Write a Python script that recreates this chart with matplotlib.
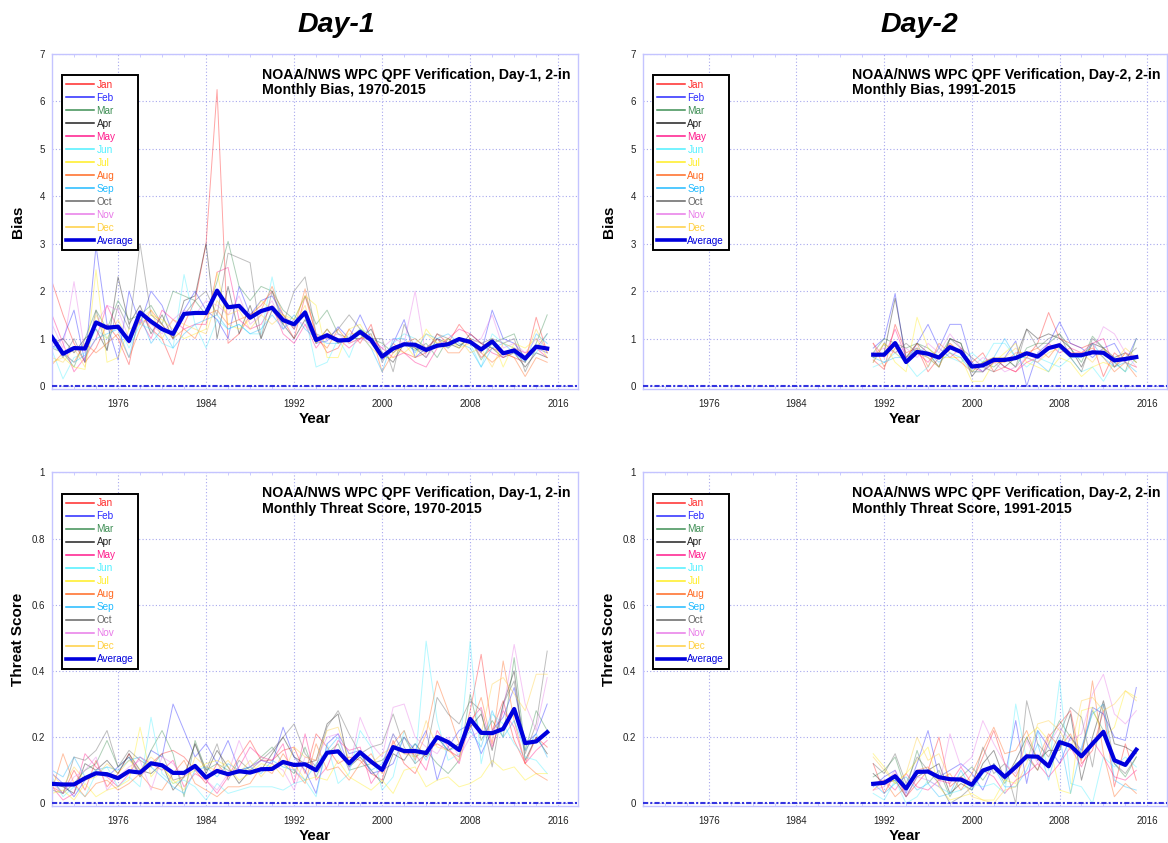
import matplotlib
matplotlib.use("Agg")
import matplotlib.pyplot as plt
from matplotlib.lines import Line2D
from matplotlib.ticker import MultipleLocator, FixedLocator

plt.rcParams['font.family'] = ['Liberation Sans', 'DejaVu Sans']

# ---------------------------------------------------------------- data
months = ['Jan', 'Feb', 'Mar', 'Apr', 'May', 'Jun',
          'Jul', 'Aug', 'Sep', 'Oct', 'Nov', 'Dec']
month_colors = ['#ff2a2a', '#2a2aff', '#3f8f55', '#222222', '#ff1a8c', '#4ef0ff',
                '#ffee22', '#ff6a22', '#22bbff', '#666666', '#e87ae8', '#ffd040']
avg_color = '#0000dd'

years_d1 = list(range(1970, 2016))
years_d2 = list(range(1991, 2016))

# Day-1 monthly bias, 1970-2015 (one row per month, Jan..Dec)
bias_d1 = [
    [2.2, 1.5, 0.9, 0.5, 0.8, 1.3, 1.0, 0.45, 1.6, 1.2, 1.0, 0.45, 1.3, 1.8, 3.0, 6.25, 0.9, 1.1, 1.5, 1.7,
     2.0, 1.4, 1.0, 1.9, 1.1, 0.7, 0.8, 1.2, 0.9, 1.3, 0.5, 0.9, 0.7, 0.6, 0.7, 1.1, 0.9, 1.3, 1.0, 0.6,
     0.8, 0.7, 0.6, 0.5, 1.45, 0.7],
    [0.8, 1.0, 1.6, 0.5, 2.95, 1.3, 0.55, 2.0, 1.3, 2.0, 1.7, 1.1, 1.6, 2.0, 1.6, 1.4, 1.0, 2.1, 1.5, 1.8,
     1.9, 1.5, 1.2, 1.6, 0.9, 0.95, 1.25, 1.0, 1.5, 1.0, 0.55, 0.9, 1.4, 0.6, 0.8, 1.0, 0.8, 1.0, 0.9, 0.7,
     1.6, 1.0, 0.9, 0.6, 0.8, 0.7],
    [0.8, 0.7, 0.4, 1.0, 1.6, 1.2, 1.8, 1.4, 1.5, 1.7, 1.3, 2.0, 1.9, 1.8, 1.5, 2.2, 3.05, 2.1, 1.8, 2.1,
     2.0, 1.6, 1.4, 1.9, 1.3, 1.6, 1.1, 1.0, 1.2, 1.0, 0.9, 0.7, 0.9, 0.75, 0.9, 0.6, 1.0, 0.85, 1.0, 0.55,
     0.9, 1.0, 1.1, 0.5, 0.9, 1.5],
    [0.9, 1.0, 0.7, 1.0, 1.2, 0.75, 2.3, 1.3, 1.7, 1.1, 1.5, 1.0, 1.8, 1.9, 3.0, 1.0, 2.1, 1.1, 1.7, 1.0,
     1.6, 1.3, 1.0, 1.4, 0.9, 1.2, 0.9, 1.0, 1.0, 1.2, 0.7, 0.5, 0.9, 0.8, 0.6, 1.0, 0.9, 0.8, 1.1, 0.9,
     0.8, 0.6, 0.7, 0.4, 0.7, 0.6],
    [1.5, 0.9, 0.3, 0.6, 1.0, 1.7, 1.2, 0.9, 1.4, 1.0, 1.6, 1.4, 1.2, 1.3, 1.3, 2.4, 2.5, 1.4, 1.2, 1.3,
     1.7, 1.1, 0.9, 1.3, 0.8, 1.1, 1.0, 0.8, 1.0, 1.0, 0.8, 0.6, 0.7, 0.5, 0.4, 0.8, 1.0, 1.2, 1.1, 0.9,
     0.7, 0.6, 0.8, 0.7, 0.8, 0.6],
    [0.75, 0.15, 0.6, 0.7, 1.2, 1.0, 1.3, 0.8, 1.3, 1.2, 0.9, 0.8, 2.35, 1.3, 0.8, 1.4, 1.2, 1.3, 1.1, 1.1,
     2.3, 1.2, 1.4, 1.5, 0.4, 0.5, 1.0, 0.6, 1.2, 1.1, 0.5, 0.9, 1.1, 1.0, 0.8, 0.9, 0.8, 1.0, 0.9, 0.4,
     1.1, 0.9, 0.8, 0.6, 0.7, 1.1],
    [0.5, 0.6, 0.4, 0.35, 2.45, 0.5, 0.6, 1.2, 1.3, 1.5, 1.4, 1.2, 1.0, 1.1, 1.2, 2.4, 1.3, 1.2, 1.4, 1.8,
     1.6, 1.5, 1.4, 1.9, 1.7, 0.6, 0.6, 1.2, 1.3, 0.9, 0.6, 0.6, 0.9, 0.6, 1.2, 0.9, 1.0, 0.8, 0.9, 0.8,
     1.0, 0.4, 0.9, 0.8, 1.0, 0.6],
    [0.45, 0.7, 0.5, 0.9, 0.7, 0.9, 1.1, 0.6, 1.2, 1.6, 1.3, 1.0, 1.2, 1.0, 1.5, 1.6, 1.3, 1.4, 1.5, 1.6,
     2.1, 1.5, 1.2, 2.05, 1.0, 0.8, 1.2, 0.9, 1.0, 1.1, 0.3, 0.7, 0.9, 1.0, 0.8, 1.0, 0.7, 0.7, 1.0, 0.7,
     0.5, 0.7, 0.6, 0.2, 0.6, 0.5],
    [0.85, 0.7, 0.5, 0.65, 1.0, 1.1, 1.2, 0.6, 1.5, 0.9, 1.2, 0.8, 1.1, 1.3, 1.4, 1.5, 1.2, 1.3, 1.1, 1.2,
     1.5, 1.2, 1.5, 1.2, 1.0, 0.9, 0.9, 1.0, 1.1, 0.8, 0.3, 1.0, 1.0, 0.7, 1.1, 1.0, 1.1, 0.9, 0.8, 0.4,
     0.8, 0.9, 0.7, 0.5, 1.1, 0.9],
    [1.0, 0.6, 1.0, 0.5, 1.6, 0.75, 1.7, 1.2, 3.0, 1.5, 1.3, 1.0, 1.5, 1.8, 2.0, 1.5, 2.8, 2.7, 2.6, 1.0,
     2.0, 1.3, 2.0, 2.3, 1.1, 1.0, 1.2, 1.5, 1.2, 1.0, 1.0, 0.3, 1.3, 0.8, 0.7, 1.1, 1.0, 0.85, 1.0, 0.9,
     1.0, 0.9, 1.0, 0.3, 0.8, 1.1],
    [1.3, 0.8, 2.2, 0.7, 1.3, 1.7, 1.6, 1.0, 1.4, 1.3, 1.1, 1.4, 1.6, 1.5, 1.8, 1.7, 1.5, 1.9, 1.3, 1.5,
     1.8, 1.2, 1.4, 1.3, 1.0, 1.0, 1.1, 0.9, 1.0, 0.9, 0.8, 1.0, 0.9, 2.0, 0.6, 0.9, 0.9, 1.0, 0.9, 1.0,
     1.5, 0.8, 0.9, 0.7, 1.0, 0.8],
    [0.6, 0.5, 0.8, 0.4, 1.5, 1.0, 1.4, 0.9, 1.4, 1.6, 1.0, 1.4, 1.3, 1.2, 1.1, 1.8, 1.5, 1.6, 1.2, 1.5,
     1.3, 1.5, 1.3, 1.7, 0.9, 1.2, 0.9, 1.1, 1.1, 0.8, 0.6, 0.8, 0.7, 0.9, 1.1, 0.9, 0.8, 1.0, 0.7, 0.8,
     0.4, 0.9, 0.8, 0.6, 1.2, 0.7],
]
bias_d1_avg = [1.03, 0.68, 0.80, 0.79, 1.34, 1.23, 1.25, 0.95, 1.55, 1.36,
               1.20, 1.10, 1.52, 1.54, 1.54, 2.01, 1.66, 1.69, 1.44, 1.58,
               1.65, 1.39, 1.30, 1.55, 0.97, 1.07, 0.96, 0.97, 1.14, 0.97,
               0.62, 0.79, 0.88, 0.87, 0.76, 0.85, 0.88, 0.99, 0.93, 0.77,
               0.94, 0.69, 0.75, 0.58, 0.83, 0.79]

# Day-1 monthly threat score, 1970-2015
ts_d1 = [
    [0.05, 0.03, 0.10, 0.04, 0.13, 0.05, 0.09, 0.15, 0.08, 0.12, 0.15, 0.16, 0.14, 0.10, 0.06, 0.12, 0.08, 0.14, 0.19, 0.13,
     0.13, 0.16, 0.17, 0.09, 0.21, 0.17, 0.12, 0.14, 0.13, 0.09, 0.07, 0.19, 0.12, 0.09, 0.16, 0.18, 0.16, 0.14, 0.28, 0.45,
     0.22, 0.31, 0.19, 0.12, 0.20, 0.17],
    [0.09, 0.06, 0.02, 0.07, 0.09, 0.08, 0.11, 0.14, 0.09, 0.16, 0.14, 0.30, 0.22, 0.14, 0.18, 0.12, 0.19, 0.10, 0.11, 0.13,
     0.12, 0.23, 0.14, 0.10, 0.03, 0.18, 0.21, 0.15, 0.16, 0.09, 0.10, 0.12, 0.20, 0.16, 0.22, 0.07, 0.17, 0.22, 0.24, 0.15,
     0.22, 0.26, 0.35, 0.18, 0.21, 0.30],
    [0.04, 0.03, 0.06, 0.10, 0.12, 0.19, 0.11, 0.14, 0.08, 0.16, 0.22, 0.15, 0.02, 0.19, 0.10, 0.12, 0.10, 0.09, 0.11, 0.14,
     0.17, 0.12, 0.09, 0.17, 0.08, 0.15, 0.18, 0.10, 0.11, 0.12, 0.13, 0.16, 0.20, 0.14, 0.16, 0.12, 0.09, 0.13, 0.33, 0.19,
     0.25, 0.20, 0.44, 0.16, 0.28, 0.22],
    [0.06, 0.05, 0.03, 0.12, 0.10, 0.13, 0.09, 0.15, 0.10, 0.09, 0.12, 0.04, 0.08, 0.18, 0.09, 0.16, 0.11, 0.06, 0.10, 0.10,
     0.15, 0.20, 0.14, 0.12, 0.13, 0.24, 0.27, 0.11, 0.14, 0.10, 0.06, 0.15, 0.13, 0.18, 0.14, 0.20, 0.16, 0.18, 0.23, 0.27,
     0.16, 0.30, 0.40, 0.13, 0.20, 0.15],
    [0.05, 0.01, 0.03, 0.15, 0.11, 0.08, 0.05, 0.09, 0.14, 0.12, 0.10, 0.13, 0.05, 0.09, 0.07, 0.03, 0.08, 0.11, 0.17, 0.14,
     0.13, 0.18, 0.06, 0.21, 0.07, 0.11, 0.19, 0.16, 0.17, 0.06, 0.11, 0.21, 0.15, 0.15, 0.10, 0.22, 0.17, 0.12, 0.25, 0.29,
     0.17, 0.28, 0.23, 0.12, 0.16, 0.19],
    [0.08, 0.02, 0.05, 0.02, 0.09, 0.11, 0.05, 0.08, 0.05, 0.26, 0.09, 0.06, 0.07, 0.05, 0.01, 0.06, 0.03, 0.04, 0.05, 0.05,
     0.05, 0.04, 0.06, 0.07, 0.02, 0.18, 0.06, 0.09, 0.22, 0.17, 0.04, 0.08, 0.22, 0.12, 0.49, 0.25, 0.13, 0.15, 0.49, 0.12,
     0.27, 0.24, 0.18, 0.14, 0.13, 0.09],
    [0.03, 0.04, 0.01, 0.06, 0.02, 0.04, 0.05, 0.07, 0.23, 0.08, 0.12, 0.06, 0.08, 0.10, 0.12, 0.13, 0.11, 0.07, 0.09, 0.12,
     0.11, 0.13, 0.12, 0.07, 0.08, 0.07, 0.13, 0.08, 0.06, 0.04, 0.07, 0.03, 0.10, 0.11, 0.05, 0.07, 0.08, 0.05, 0.06, 0.08,
     0.13, 0.10, 0.11, 0.07, 0.09, 0.09],
    [0.04, 0.15, 0.06, 0.02, 0.06, 0.07, 0.04, 0.06, 0.09, 0.05, 0.04, 0.09, 0.13, 0.06, 0.04, 0.02, 0.05, 0.05, 0.06, 0.11,
     0.09, 0.15, 0.10, 0.06, 0.18, 0.10, 0.11, 0.07, 0.12, 0.15, 0.09, 0.18, 0.22, 0.13, 0.21, 0.37, 0.28, 0.18, 0.23, 0.32,
     0.18, 0.43, 0.25, 0.12, 0.09, 0.07],
    [0.10, 0.08, 0.14, 0.08, 0.10, 0.11, 0.10, 0.13, 0.14, 0.11, 0.08, 0.05, 0.03, 0.10, 0.11, 0.08, 0.12, 0.10, 0.11, 0.09,
     0.13, 0.11, 0.10, 0.07, 0.12, 0.16, 0.20, 0.11, 0.15, 0.10, 0.12, 0.21, 0.15, 0.18, 0.13, 0.20, 0.16, 0.17, 0.22, 0.17,
     0.28, 0.20, 0.25, 0.16, 0.21, 0.14],
    [0.07, 0.03, 0.14, 0.13, 0.16, 0.22, 0.11, 0.16, 0.13, 0.11, 0.15, 0.07, 0.08, 0.18, 0.10, 0.18, 0.07, 0.13, 0.10, 0.13,
     0.16, 0.20, 0.24, 0.15, 0.11, 0.23, 0.28, 0.21, 0.15, 0.17, 0.18, 0.27, 0.17, 0.12, 0.15, 0.32, 0.27, 0.24, 0.31, 0.28,
     0.11, 0.30, 0.37, 0.15, 0.24, 0.46],
    [0.06, 0.03, 0.08, 0.10, 0.14, 0.04, 0.08, 0.11, 0.13, 0.04, 0.14, 0.12, 0.08, 0.11, 0.07, 0.04, 0.09, 0.19, 0.11, 0.13,
     0.12, 0.10, 0.04, 0.14, 0.13, 0.20, 0.21, 0.10, 0.26, 0.18, 0.14, 0.29, 0.30, 0.20, 0.17, 0.15, 0.20, 0.14, 0.20, 0.22,
     0.21, 0.28, 0.48, 0.30, 0.22, 0.38],
    [0.09, 0.05, 0.11, 0.07, 0.08, 0.12, 0.09, 0.13, 0.10, 0.14, 0.11, 0.07, 0.04, 0.14, 0.11, 0.10, 0.13, 0.09, 0.13, 0.08,
     0.12, 0.08, 0.17, 0.14, 0.13, 0.22, 0.23, 0.13, 0.15, 0.12, 0.15, 0.17, 0.15, 0.14, 0.25, 0.17, 0.16, 0.13, 0.26, 0.21,
     0.36, 0.38, 0.33, 0.28, 0.39, 0.39],
]
ts_d1_avg = [0.059, 0.057, 0.057, 0.076, 0.091, 0.088, 0.076, 0.097, 0.093, 0.121,
             0.115, 0.092, 0.092, 0.113, 0.078, 0.098, 0.088, 0.097, 0.093, 0.103,
             0.104, 0.125, 0.116, 0.118, 0.100, 0.153, 0.157, 0.121, 0.154, 0.126,
             0.101, 0.170, 0.158, 0.158, 0.152, 0.200, 0.185, 0.161, 0.255, 0.213,
             0.212, 0.225, 0.285, 0.182, 0.187, 0.215]

# Day-2 monthly bias, 1991-2015
bias_d2 = [
    [0.55, 0.35, 1.3, 0.7, 0.8, 0.3, 0.6, 0.9, 0.7, 0.5, 0.7, 0.3, 0.4, 0.3, 0.6, 0.9, 1.55, 1.0, 0.9, 0.8, 0.9, 0.2, 0.7, 0.5, 0.4],
    [0.8, 1.0, 1.95, 0.5, 0.9, 1.3, 0.8, 1.3, 1.3, 0.5, 0.3, 0.5, 0.6, 0.95, 0.0, 0.7, 0.9, 1.35, 0.9, 0.8, 0.6, 0.8, 0.9, 0.5, 1.0],
    [0.7, 1.0, 0.9, 0.8, 0.9, 0.8, 0.6, 1.0, 0.9, 0.3, 0.5, 0.4, 0.6, 0.4, 0.8, 0.9, 0.9, 1.1, 0.8, 0.5, 1.05, 0.8, 0.5, 0.3, 1.0],
    [0.6, 0.7, 1.85, 0.6, 0.9, 0.7, 0.4, 1.0, 0.9, 0.2, 0.5, 0.6, 0.4, 0.6, 1.2, 1.0, 1.1, 1.0, 0.8, 0.4, 0.9, 0.8, 0.6, 0.7, 0.5],
    [0.9, 0.6, 1.2, 0.6, 0.7, 0.5, 0.8, 0.6, 0.8, 0.4, 0.3, 0.6, 0.4, 0.3, 0.5, 0.6, 0.9, 0.7, 0.8, 0.7, 0.9, 1.0, 0.4, 0.7, 0.6],
    [0.4, 0.5, 0.7, 0.5, 0.2, 0.4, 0.8, 0.6, 0.5, 0.7, 0.5, 0.9, 0.9, 0.6, 0.4, 0.6, 0.5, 0.4, 0.6, 0.3, 0.4, 0.1, 0.5, 0.3, 0.6],
    [0.6, 0.9, 0.5, 0.3, 1.45, 0.8, 0.6, 0.6, 0.6, 0.1, 0.1, 0.5, 0.7, 0.9, 0.5, 0.4, 0.3, 0.6, 0.5, 0.2, 0.4, 0.5, 0.4, 0.7, 0.5],
    [0.9, 0.4, 0.8, 0.6, 0.9, 0.4, 0.9, 0.7, 0.5, 0.3, 0.3, 0.5, 0.5, 0.7, 0.7, 0.8, 0.6, 0.9, 0.7, 0.7, 0.8, 0.6, 0.3, 0.5, 0.2],
    [0.6, 0.5, 0.6, 0.6, 0.8, 0.7, 0.5, 0.7, 0.6, 0.3, 0.3, 0.6, 1.0, 0.6, 0.6, 0.5, 0.3, 0.8, 0.6, 0.6, 0.9, 0.6, 0.4, 0.5, 0.3],
    [0.5, 0.9, 0.7, 0.9, 0.7, 0.6, 0.4, 1.0, 0.8, 0.6, 0.4, 0.3, 0.6, 0.4, 1.2, 0.8, 1.0, 1.1, 0.6, 0.3, 1.0, 0.8, 0.4, 0.6, 0.8],
    [0.7, 0.8, 0.7, 0.8, 0.6, 0.9, 0.7, 1.1, 0.8, 0.4, 0.6, 0.5, 0.3, 0.4, 0.6, 0.5, 0.8, 0.9, 0.7, 0.7, 0.7, 1.25, 1.1, 0.7, 0.4],
    [0.5, 0.9, 0.7, 0.5, 0.8, 0.6, 0.4, 0.9, 0.7, 0.3, 0.5, 0.6, 0.6, 0.8, 0.6, 0.5, 0.7, 0.8, 0.6, 0.7, 0.5, 0.8, 0.5, 0.8, 0.6],
]
bias_d2_avg = [0.66, 0.66, 0.905, 0.505, 0.72, 0.68, 0.60, 0.82, 0.72, 0.41,
               0.435, 0.55, 0.55, 0.59, 0.69, 0.62, 0.80, 0.86, 0.65, 0.65,
               0.71, 0.70, 0.54, 0.57, 0.61]

# Day-2 monthly threat score, 1991-2015
ts_d2 = [
    [0.12, 0.03, 0.09, 0.02, 0.06, 0.10, 0.20, 0.05, 0.08, 0.06, 0.14, 0.22, 0.12, 0.08, 0.15, 0.10, 0.20, 0.24, 0.28, 0.12, 0.16, 0.28, 0.05, 0.18, 0.07],
    [0.05, 0.08, 0.10, 0.03, 0.12, 0.22, 0.08, 0.10, 0.12, 0.09, 0.04, 0.12, 0.08, 0.25, 0.06, 0.22, 0.17, 0.12, 0.20, 0.16, 0.29, 0.27, 0.20, 0.19, 0.35],
    [0.08, 0.10, 0.14, 0.04, 0.16, 0.06, 0.10, 0.02, 0.08, 0.11, 0.07, 0.12, 0.06, 0.12, 0.14, 0.10, 0.18, 0.25, 0.20, 0.15, 0.28, 0.22, 0.12, 0.08, 0.14],
    [0.09, 0.06, 0.07, 0.02, 0.08, 0.10, 0.12, 0.03, 0.06, 0.04, 0.12, 0.16, 0.07, 0.13, 0.20, 0.13, 0.16, 0.16, 0.27, 0.07, 0.20, 0.31, 0.18, 0.17, 0.15],
    [0.06, 0.07, 0.04, 0.09, 0.05, 0.04, 0.07, 0.06, 0.11, 0.06, 0.10, 0.08, 0.03, 0.07, 0.09, 0.12, 0.08, 0.12, 0.17, 0.11, 0.19, 0.14, 0.08, 0.07, 0.10],
    [0.03, 0.01, 0.07, 0.00, 0.02, 0.07, 0.05, 0.03, 0.04, 0.06, 0.05, 0.06, 0.03, 0.30, 0.13, 0.22, 0.10, 0.37, 0.06, 0.05, 0.00, 0.14, 0.11, 0.14, 0.11],
    [0.15, 0.11, 0.06, 0.09, 0.13, 0.17, 0.05, 0.01, 0.02, 0.03, 0.01, 0.01, 0.07, 0.06, 0.20, 0.23, 0.19, 0.04, 0.03, 0.28, 0.29, 0.20, 0.23, 0.34, 0.32],
    [0.04, 0.07, 0.02, 0.05, 0.10, 0.11, 0.07, 0.09, 0.04, 0.09, 0.16, 0.23, 0.15, 0.16, 0.22, 0.13, 0.21, 0.17, 0.21, 0.13, 0.37, 0.15, 0.02, 0.06, 0.03],
    [0.06, 0.03, 0.06, 0.08, 0.04, 0.06, 0.02, 0.03, 0.10, 0.04, 0.09, 0.11, 0.05, 0.05, 0.10, 0.18, 0.07, 0.20, 0.03, 0.17, 0.27, 0.30, 0.07, 0.05, 0.04],
    [0.12, 0.09, 0.15, 0.06, 0.14, 0.10, 0.06, 0.00, 0.02, 0.05, 0.17, 0.09, 0.12, 0.00, 0.31, 0.18, 0.14, 0.21, 0.29, 0.26, 0.11, 0.30, 0.12, 0.09, 0.14],
    [0.04, 0.05, 0.10, 0.02, 0.08, 0.07, 0.05, 0.21, 0.11, 0.14, 0.25, 0.18, 0.12, 0.09, 0.19, 0.12, 0.18, 0.23, 0.19, 0.21, 0.33, 0.39, 0.27, 0.24, 0.28],
    [0.14, 0.10, 0.06, 0.09, 0.20, 0.13, 0.15, 0.07, 0.08, 0.02, 0.01, 0.00, 0.04, 0.05, 0.12, 0.24, 0.25, 0.22, 0.16, 0.31, 0.32, 0.28, 0.30, 0.34, 0.31],
]
ts_d2_avg = [0.059, 0.062, 0.082, 0.045, 0.095, 0.096, 0.079, 0.073, 0.072, 0.056,
             0.099, 0.111, 0.080, 0.110, 0.142, 0.141, 0.112, 0.185, 0.174, 0.142,
             0.180, 0.216, 0.130, 0.116, 0.162]

year_ticks = [1976, 1984, 1992, 2000, 2008, 2016]
bias_ticks = [0, 1, 2, 3, 4, 5, 6, 7]
ts_ticks = [0, 0.2, 0.4, 0.6, 0.8, 1]
ts_tick_labels = ['0', '0.2', '0.4', '0.6', '0.8', '1']

# ---------------------------------------------------------------- style
frame_color = '#c4c4ff'
grid_color = '#a8a8ee'
zero_color = '#3434e0'

W, H = 1168, 843
fig = plt.figure(figsize=(W / 100, H / 100), dpi=100)


def px_axes(x0, y0, x1, y1):
    return fig.add_axes([x0 / W, 1 - y1 / H, (x1 - x0) / W, (y1 - y0) / H])


def draw_panel(ax, years, monthly, avg, ylim, yticks, yticklabels, ylabel, title):
    for vals, col in zip(monthly, month_colors):
        ax.plot(years, vals, color=col, lw=0.7, alpha=0.42, zorder=2)
    ax.plot(years, avg, color=avg_color, lw=3.0, zorder=4)
    ax.axhline(0, color=zero_color, lw=1.5, ls=(0, (2.5, 1, 1, 1)), zorder=3)

    ax.set_xlim(1970, 2017.8)
    ax.set_ylim(*ylim)
    ax.xaxis.set_major_locator(FixedLocator(year_ticks))
    ax.xaxis.set_minor_locator(MultipleLocator(2))
    ax.set_yticks(yticks)
    ax.set_yticklabels(yticklabels)
    ax.tick_params(axis='both', which='both', direction='in', color=frame_color,
                   labelsize=7, labelcolor='#222222', top=True, right=True)
    ax.tick_params(axis='x', which='major', length=0, pad=7)
    ax.tick_params(axis='x', which='minor', length=2.5)
    ax.tick_params(axis='y', which='major', length=0, pad=5)
    for sp in ax.spines.values():
        sp.set_color(frame_color)
        sp.set_linewidth(1.0)
    ax.grid(True, which='major', color=grid_color, lw=0.8, ls=(0, (1, 2)), zorder=1)

    ax.set_xlabel('Year', fontsize=11, fontweight='bold')
    ax.xaxis.set_label_coords(0.5, -0.068)
    ax.set_ylabel(ylabel, fontsize=11, fontweight='bold')
    ax.yaxis.set_label_coords(-0.052, 0.5)

    ax.text(0.399, 0.958, title, transform=ax.transAxes, ha='left', va='top',
            fontsize=10.2, fontweight='bold', linespacing=1.12, zorder=6)

    handles = [Line2D([], [], color=c, lw=1.1) for c in month_colors]
    handles.append(Line2D([], [], color=avg_color, lw=2.6))
    leg = ax.legend(handles, months + ['Average'], loc='upper left',
                    bbox_to_anchor=(0.019, 0.936), fontsize=7.2, labelcolor='linecolor',
                    frameon=True, fancybox=False, edgecolor='black', framealpha=1,
                    handlelength=2.8, handletextpad=0.2, labelspacing=0.3,
                    borderpad=0.45, borderaxespad=0)
    leg.get_frame().set_linewidth(1.4)
    leg.set_zorder(7)


ax1 = px_axes(52, 54, 578, 389)
ax2 = px_axes(643, 54, 1167, 389)
ax3 = px_axes(52, 472.3, 578, 806)
ax4 = px_axes(643, 472.3, 1167, 806)

bias_ylim = (-0.063, 7)
ts_ylim = (-0.008, 1)
bias_labels = [str(t) for t in bias_ticks]

draw_panel(ax1, years_d1, bias_d1, bias_d1_avg, bias_ylim, bias_ticks, bias_labels, 'Bias',
           'NOAA/NWS WPC QPF Verification, Day-1, 2-in\nMonthly Bias, 1970-2015')
draw_panel(ax2, years_d2, bias_d2, bias_d2_avg, bias_ylim, bias_ticks, bias_labels, 'Bias',
           'NOAA/NWS WPC QPF Verification, Day-2, 2-in\nMonthly Bias, 1991-2015')
draw_panel(ax3, years_d1, ts_d1, ts_d1_avg, ts_ylim, ts_ticks, ts_tick_labels, 'Threat Score',
           'NOAA/NWS WPC QPF Verification, Day-1, 2-in\nMonthly Threat Score, 1970-2015')
draw_panel(ax4, years_d2, ts_d2, ts_d2_avg, ts_ylim, ts_ticks, ts_tick_labels, 'Threat Score',
           'NOAA/NWS WPC QPF Verification, Day-2, 2-in\nMonthly Threat Score, 1991-2015')

fig.text(336 / W, 1 - 25 / H, 'Day-1', ha='center', va='center',
         fontsize=20.5, fontweight='bold', fontstyle='italic')
fig.text(919 / W, 1 - 25 / H, 'Day-2', ha='center', va='center',
         fontsize=20.5, fontweight='bold', fontstyle='italic')

fig.savefig('out.png', dpi=100)
